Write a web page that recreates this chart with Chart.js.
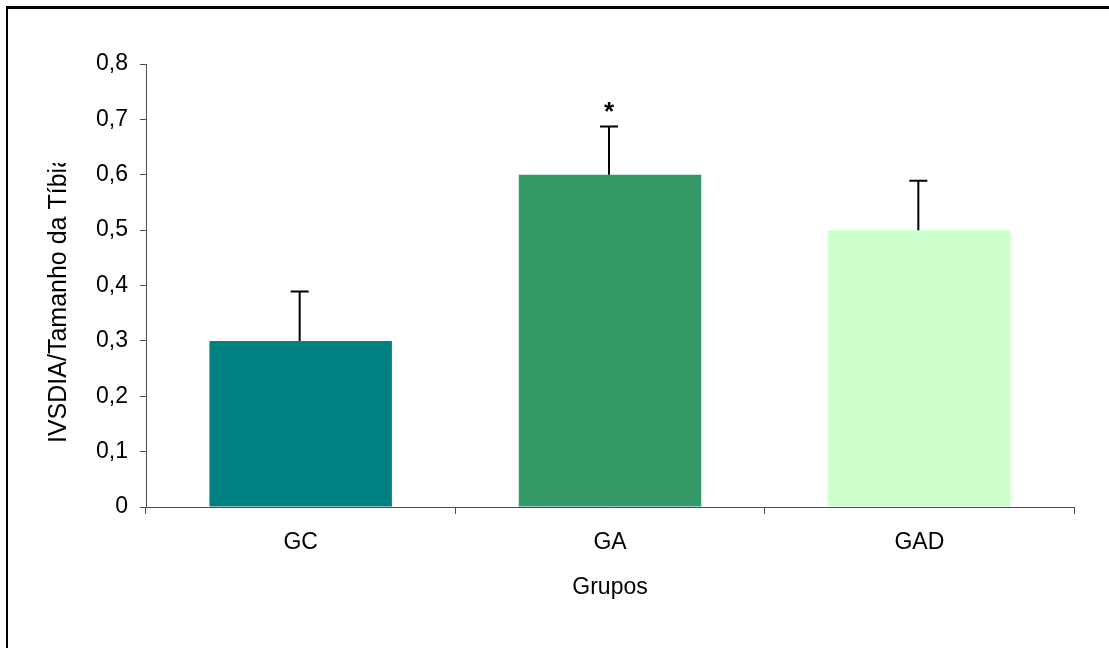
<!DOCTYPE html>
<html>
<head>
<meta charset="utf-8">
<script src="https://cdn.jsdelivr.net/npm/chart.js@4.4.1/dist/chart.umd.min.js"></script>
<style>
  html, body { margin: 0; padding: 0; background: #fff; overflow: hidden; }
  #frame {
    position: absolute; left: 6px; top: 6px; width: 1200px; height: 700px;
    border-top: 3px solid #000; border-left: 2px solid #000;
  }
  #wrap { position: absolute; left: 0; top: 0; width: 1109px; height: 648px; }
</style>
</head>
<body>
<div id="frame"></div>
<div id="wrap"><canvas id="barChart"></canvas></div>
<script>
  const groups = ['GC', 'GA', 'GAD'];
  const means = [0.30, 0.60, 0.50];
  const errors = [0.089, 0.087, 0.089];
  const marks = ['', '*', ''];
  const barColors = ['#008080', '#339966', '#ccffcc'];
  const yTickLabels = ['0', '0,1', '0,2', '0,3', '0,4', '0,5', '0,6', '0,7', '0,8'];
  const yTitle = 'IVSDIA/Tamanho da Tíbia';
  const xTitle = 'Grupos';

  const FONT = "'Liberation Sans', Arial, sans-serif";

  // error bars (upper only) + significance mark
  const errorBarPlugin = {
    id: 'errorBars',
    afterDatasetsDraw(chart) {
      const ctx = chart.ctx;
      const x = chart.scales.x;
      const y = chart.scales.y;
      ctx.save();
      ctx.strokeStyle = '#000';
      ctx.lineWidth = 2;
      means.forEach((m, i) => {
        const px = x.getPixelForValue(i) - 1;
        const y0 = y.getPixelForValue(m);
        const y1 = y.getPixelForValue(m + errors[i]);
        ctx.beginPath();
        ctx.moveTo(px, y0);
        ctx.lineTo(px, y1);
        ctx.moveTo(px - 9, y1);
        ctx.lineTo(px + 9, y1);
        ctx.stroke();
        if (marks[i]) {
          ctx.fillStyle = '#000';
          ctx.font = 'bold 26px ' + FONT;
          ctx.textAlign = 'center';
          ctx.textBaseline = 'middle';
          ctx.fillText(marks[i], px, y1 - 14);
        }
      });
      ctx.restore();
    }
  };

  // y title, anchored at the bottom and cut at the top like the original
  const yTitlePlugin = {
    id: 'yTitle',
    afterDraw(chart) {
      const ctx = chart.ctx;
      ctx.save();
      ctx.beginPath();
      ctx.rect(0, 163, 140, 400);
      ctx.clip();
      ctx.translate(59, 443);
      ctx.rotate(-Math.PI / 2);
      ctx.fillStyle = '#000';
      ctx.font = '25px ' + FONT;
      ctx.textAlign = 'left';
      ctx.textBaseline = 'middle';
      ctx.fillText(yTitle, 0, 0);
      ctx.restore();
    }
  };

  const ctx = document.getElementById('barChart').getContext('2d');

  new Chart(ctx, {
    type: 'bar',
    data: {
      labels: groups,
      datasets: [{
        data: means,
        backgroundColor: barColors,
        borderWidth: 0,
        barPercentage: 0.59,
        categoryPercentage: 1
      }]
    },
    options: {
      responsive: true,
      maintainAspectRatio: false,
      animation: false,
      layout: { padding: { top: 64, right: 35, left: 0, bottom: 0 } },
      plugins: {
        legend: { display: false },
        tooltip: { enabled: false }
      },
      scales: {
        x: {
          grid: { drawOnChartArea: false, drawTicks: true, tickLength: 7, color: '#4d4d4d', offset: true },
          border: { display: true, color: '#4d4d4d', width: 1 },
          ticks: { color: '#000', font: { family: FONT, size: 23 }, padding: 15 },
          title: {
            display: true, text: xTitle, color: '#000',
            font: { family: FONT, size: 23 }, padding: { top: 0, bottom: 47 }
          },
          afterFit(scale) { scale.height = 141; }
        },
        y: {
          min: 0,
          max: 0.8,
          grid: { drawOnChartArea: false, drawTicks: true, tickLength: 6, color: '#4d4d4d' },
          border: { display: true, color: '#4d4d4d', width: 1 },
          ticks: {
            stepSize: 0.1,
            color: '#000',
            font: { family: FONT, size: 23 },
            padding: 12,
            callback: (v, i) => yTickLabels[i]
          },
          afterFit(scale) { scale.width = 146; }
        }
      }
    },
    plugins: [errorBarPlugin, yTitlePlugin]
  });
</script>
</body>
</html>
